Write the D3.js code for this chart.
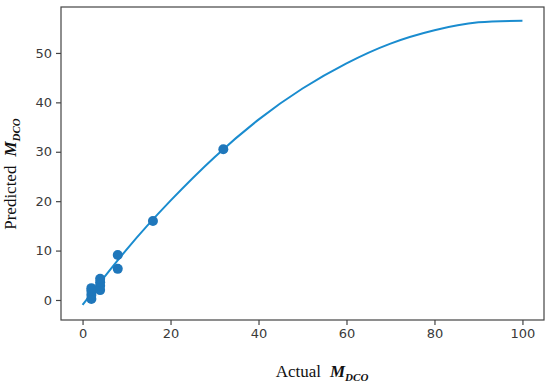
<!DOCTYPE html>
<html>
<head>
<meta charset="utf-8">
<script src="https://cdn.jsdelivr.net/npm/d3@7"></script>
<style>
  body { margin: 0; background: #fff; }
  #chart { width: 550px; height: 384px; }
  .tick text { font-family: "DejaVu Sans", sans-serif; font-size: 13px; fill: #3a3a3a; }
  .axis-title { font-family: "Liberation Serif", "Times New Roman", serif; font-size: 17px; fill: #111; }
</style>
</head>
<body>
<div id="chart"></div>
<script>
// scatter: actual vs predicted
const actualVals = [2, 2, 2, 2, 4, 4, 4, 4, 8, 8, 16, 32];
const predictedVals = [0.2, 1.0, 1.8, 2.4, 2.0, 2.9, 3.6, 4.3, 9.1, 6.3, 16.0, 30.5];

// fitted curve
const curveX = [0, 10, 20, 30, 40, 50, 60, 70, 80, 90, 100];
const curveY = [-1, 10.2, 20.1, 28.9, 36.5, 42.8, 47.9, 51.9, 54.6, 56.2, 56.5];

const xTicks = [0, 20, 40, 60, 80, 100];
const yTicks = [0, 10, 20, 30, 40, 50];

const margin = { top: 7, right: 6, bottom: 64, left: 61 };
const W = 550, H = 384;
const width = W - margin.left - margin.right;
const height = H - margin.top - margin.bottom;

const svg = d3.select('#chart').append('svg')
    .attr('width', W)
    .attr('height', H);

const g = svg.append('g')
    .attr('transform', `translate(${margin.left},${margin.top})`);

const x = d3.scaleLinear().domain([-4.9, 104.9]).range([0, width]);
const y = d3.scaleLinear().domain([-4.05, 59.3]).range([height, 0]);

// curve
const line = d3.line()
    .x((d, i) => x(curveX[i]))
    .y(d => y(d))
    .curve(d3.curveNatural);

g.append('path')
    .datum(curveY)
    .attr('d', line)
    .attr('fill', 'none')
    .attr('stroke', '#1a8ccf')
    .attr('stroke-width', 2);

// points
g.selectAll('.pt')
    .data(actualVals)
    .enter()
    .append('circle')
    .attr('class', 'pt')
    .attr('cx', d => x(d))
    .attr('cy', (d, i) => y(predictedVals[i]))
    .attr('r', 5)
    .attr('fill', '#1f77bb');

// axes
const xAxis = g.append('g')
    .attr('transform', `translate(0,${height})`)
    .call(d3.axisBottom(x).tickValues(xTicks).tickSize(5).tickPadding(4));
const yAxis = g.append('g')
    .call(d3.axisLeft(y).tickValues(yTicks).tickSize(5).tickPadding(4));

[xAxis, yAxis].forEach(a => {
    a.select('.domain').remove();
    a.selectAll('.tick line').attr('stroke', '#444').attr('stroke-width', 1.2);
});

// frame
g.append('rect')
    .attr('x', 0).attr('y', 0)
    .attr('width', width).attr('height', height)
    .attr('fill', 'none')
    .attr('stroke', '#444')
    .attr('stroke-width', 1.2);

// axis titles
function title(sel, word) {
    sel.append('tspan').text(word);
    sel.append('tspan').attr('dx', 9).attr('font-style', 'italic').attr('font-weight', 'bold').text('M');
    sel.append('tspan').attr('font-style', 'italic').attr('font-weight', 'bold')
        .attr('font-size', '11px').attr('dy', 4).text('DCO');
}

const xt = svg.append('text')
    .attr('class', 'axis-title')
    .attr('x', 322)
    .attr('y', 377)
    .attr('text-anchor', 'middle');
title(xt, 'Actual');

const yt = svg.append('text')
    .attr('class', 'axis-title')
    .attr('transform', 'translate(16,174) rotate(-90)')
    .attr('text-anchor', 'middle');
title(yt, 'Predicted');
</script>
</body>
</html>
